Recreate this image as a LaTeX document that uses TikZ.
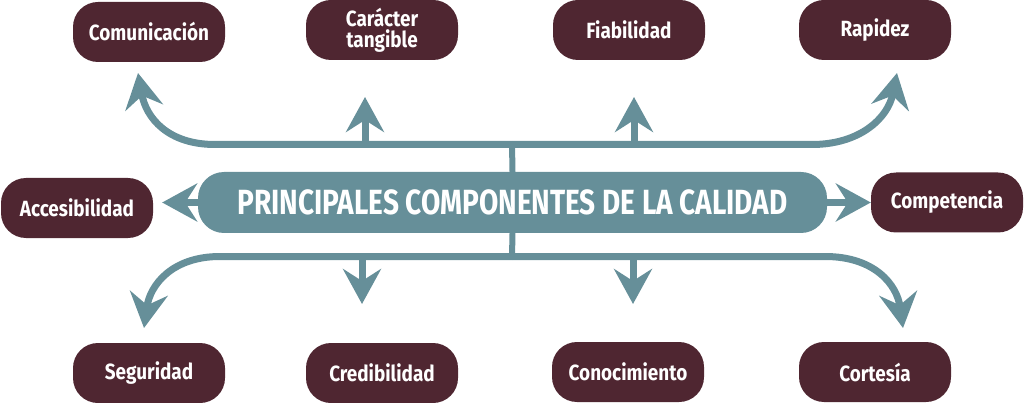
\documentclass[tikz,border=0pt]{standalone}
\usepackage{fontspec}
\newfontfamily\boxfont{Fira Sans}[FakeStretch=0.86]
\newfontfamily\mainfont{Fira Sans}[FakeStretch=0.8]
\usetikzlibrary{arrows.meta}
\definecolor{calteal}{RGB}{102,143,153}
\definecolor{calwine}{RGB}{79,38,49}
\tikzset{
  item/.style={fill=calwine,text=white,rounded corners=25pt,minimum width=152pt,minimum height=60pt,
    inner sep=0pt,align=center,font=\boxfont\bfseries\fontsize{22}{21}\selectfont},
  main/.style={fill=calteal,text=white,rounded corners=26pt,minimum width=629pt,minimum height=61pt,
    inner sep=0pt,font=\mainfont\bfseries\fontsize{35}{36}\selectfont},
  bus/.style={draw=calteal,line width=7pt},
  link/.style={bus,-{Stealth[length=35pt,width=38pt,inset=12pt]}},
}
\begin{document}
\begin{tikzpicture}[x=1pt,y=-1pt]
\useasboundingbox (0,0) rectangle (1024,403);
% central box and the ten components
\node[main](core) at (512.5,202.5){PRINCIPALES COMPONENTES DE LA CALIDAD};
\node[item](com) at (149,32){Comunicación};
\node[item](tan) at (382,30){Carácter\\tangible};
\node[item](fia) at (629,30){Fiabilidad};
\node[item](rap) at (875,30){Rapidez};
\node[item](acc) at (77,208){Accesibilidad};
\node[item](cpt) at (947,202.5){Competencia};
\node[item](seg) at (149,373){Seguridad};
\node[item](cre) at (382,373){Credibilidad};
\node[item](cono) at (628,372){Conocimiento};
\node[item](cor) at (875,372){Cortesía};
% junctions and arrow tips
\coordinate(up) at (512,144.5);
\coordinate(dn) at (512,256.5);
\coordinate(comtip) at (138,73);
\coordinate(tantip) at (365,97);
\coordinate(fiatip) at (634,97);
\coordinate(raptip) at (897,73);
\coordinate(segtip) at (144,328);
\coordinate(cretip) at (362,304);
\coordinate(conotip) at (633,304);
\coordinate(cortip) at (903,328);
% upper branch
\draw[bus,line width=6pt](core.north)--(up);
\draw[link](up)--(215,144.5)..controls(168,144.5)and(146,118)..(comtip);
\draw[link](up)--(812,144.5)..controls(860,144.5)and(888,118)..(raptip);
\draw[link](tantip|-up)--(tantip);
\draw[link](fiatip|-up)--(fiatip);
% lower branch
\draw[bus,line width=6pt](core.south)--(dn);
\draw[link](dn)--(220,256.5)..controls(172,256.5)and(150,285)..(segtip);
\draw[link](dn)--(825,256.5)..controls(875,256.5)and(897,285)..(cortip);
\draw[link](cretip|-dn)--(cretip);
\draw[link](conotip|-dn)--(conotip);
% sides
\draw[link](core.west)--([xshift=9pt]acc.east|-core.west);
\draw[link](core.east)--(cpt.west);
\end{tikzpicture}
\end{document}
